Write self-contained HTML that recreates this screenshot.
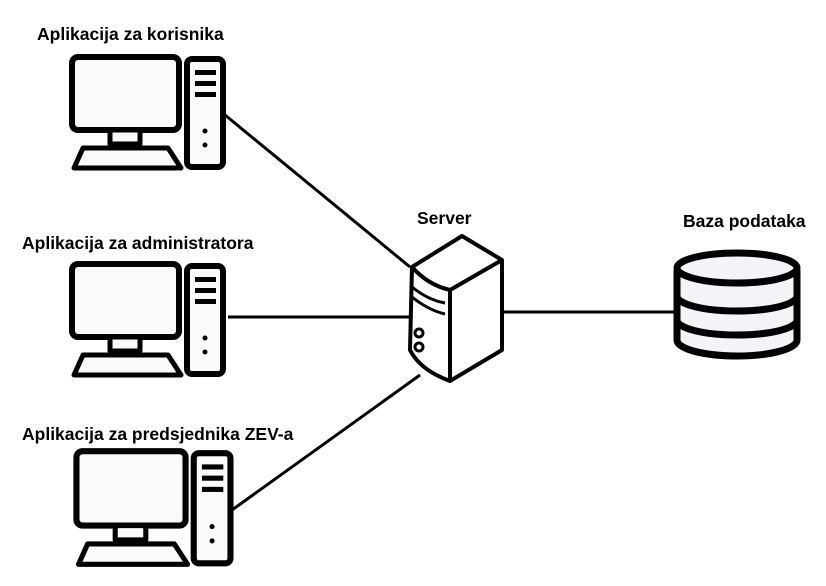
<!DOCTYPE html>
<html><head><style>
body{margin:0;background:#fff;width:826px;height:581px;overflow:hidden}
text{font-family:"Liberation Sans",sans-serif;font-weight:bold;font-size:17.5px;fill:#000}
</style></head><body>
<svg width="826" height="581" viewBox="0 0 826 581">
<defs>
<g id="pc" fill="#fafafa" stroke="#000" stroke-width="6" stroke-linejoin="round">
<rect x="72" y="57" width="107" height="73" rx="6"/>
<rect x="110" y="130" width="30" height="14" stroke-width="5"/>
<polygon points="83,148 168,148 181,168 74,168" stroke-width="5"/>
<rect x="187" y="59" width="36" height="108" rx="5"/>
<g stroke="none" fill="#000">
<rect x="195" y="70" width="21" height="5"/><rect x="195" y="81" width="21" height="5"/><rect x="195" y="92" width="21" height="5"/>
<circle cx="205" cy="131" r="2.5"/><circle cx="205" cy="145" r="2.5"/>
</g>
</g>
</defs>
<g stroke="#000" stroke-width="3">
<line x1="225" y1="115" x2="410" y2="267"/>
<line x1="228" y1="317" x2="412" y2="317"/>
<line x1="232" y1="510" x2="420" y2="375"/>
<line x1="503" y1="312" x2="678" y2="312"/>
</g>
<use href="#pc"/>
<use href="#pc" transform="translate(0,207)"/>
<use href="#pc" transform="translate(3,393) scale(1.02)"/>
<g fill="#fff" stroke="#000" stroke-width="4" stroke-linejoin="round">
<path d="M412,267 L462,236 L502,260 L502,350 L450,381 Q420,370 410,350 Z"/>
<path d="M412,267 Q428,285 450,290 L502,260" fill="none"/>
<line x1="450" y1="290" x2="450" y2="381"/>
<path d="M412,287 Q428,300 445,303 M412,297 Q428,310 445,314" fill="none" stroke-width="3"/>
<circle cx="419" cy="333" r="4" stroke-width="3"/>
<circle cx="419" cy="347" r="4" stroke-width="3"/>
</g>
<g fill="#f4f4f6" stroke="#000" stroke-width="7">
<path d="M677,270 L677,340 A60,16 0 0 0 797,340 L797,270"/>
<ellipse cx="737" cy="268" rx="60" ry="15"/>
<path d="M677,296 A60,15 0 0 0 797,296 M677,320 A60,15 0 0 0 797,320" fill="none"/>
</g>
<text x="37" y="40">Aplikacija za korisnika</text>
<text x="22" y="249">Aplikacija za administratora</text>
<text x="22" y="440">Aplikacija za predsjednika ZEV-a</text>
<text x="417" y="224">Server</text>
<text x="683" y="227">Baza podataka</text>
</svg>
</body></html>
